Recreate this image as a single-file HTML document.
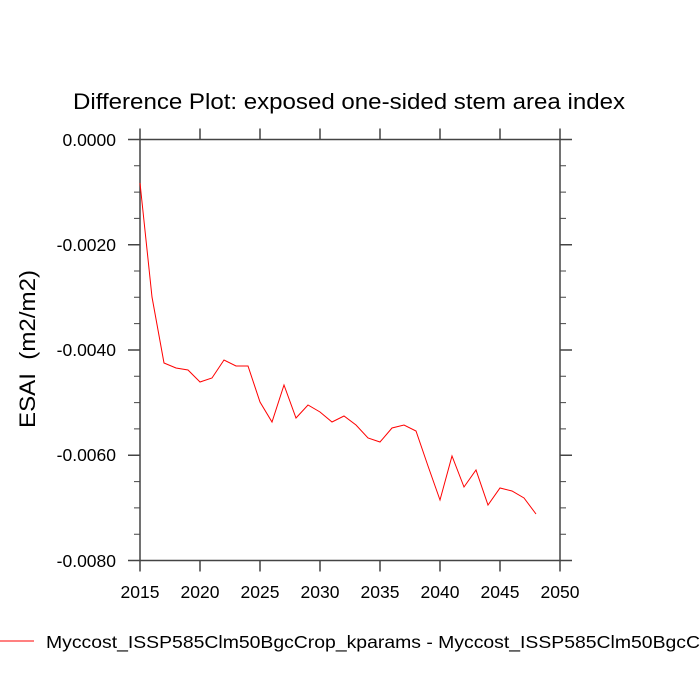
<!DOCTYPE html>
<html><head><style>body{margin:0;background:#fff;overflow:hidden}svg{display:block}</style></head><body>
<svg width="700" height="700" xmlns="http://www.w3.org/2000/svg" font-family="Liberation Sans, sans-serif">
<text x="73" y="109" font-size="22" textLength="552" lengthAdjust="spacingAndGlyphs">Difference Plot: exposed one-sided stem area index</text>
<g stroke="#444" stroke-width="1.5" fill="none">
<rect x="140" y="139.5" width="420" height="421"/>
<path d="M140,139.5h-12M140,244.75h-12M140,350h-12M140,455.25h-12M140,560.5h-12
M560,139.5h12M560,244.75h12M560,350h12M560,455.25h12M560,560.5h12
M140,139.5v-11M200,139.5v-11M260,139.5v-11M320,139.5v-11M380,139.5v-11M440,139.5v-11M500,139.5v-11M560,139.5v-11
M140,560.5v11M200,560.5v11M260,560.5v11M320,560.5v11M380,560.5v11M440,560.5v11M500,560.5v11M560,560.5v11"/>
<path stroke-width="1" d="M140,165.8h-6M140,192.1h-6M140,218.4h-6M140,271h-6M140,297.3h-6M140,323.6h-6M140,376.3h-6M140,402.6h-6M140,428.9h-6M140,481.6h-6M140,507.9h-6M140,534.2h-6
M560,165.8h6M560,192.1h6M560,218.4h6M560,271h6M560,297.3h6M560,323.6h6M560,376.3h6M560,402.6h6M560,428.9h6M560,481.6h6M560,507.9h6M560,534.2h6"/>
</g>
<g font-size="17.5" text-anchor="end">
<text x="116" y="146">0.0000</text><text x="116" y="251">-0.0020</text><text x="116" y="356">-0.0040</text><text x="116" y="461">-0.0060</text><text x="116" y="567">-0.0080</text>
</g>
<g font-size="17.5" text-anchor="middle">
<text x="140" y="598">2015</text><text x="200" y="598">2020</text><text x="260" y="598">2025</text><text x="320" y="598">2030</text><text x="380" y="598">2035</text><text x="440" y="598">2040</text><text x="500" y="598">2045</text><text x="560" y="598">2050</text>
</g>
<text transform="translate(35,428) rotate(-90)" font-size="22" textLength="158" lengthAdjust="spacingAndGlyphs" xml:space="preserve">ESAI  (m2/m2)</text>
<polyline fill="none" stroke="#f00" stroke-width="1" points="140,183 152,297 164,363 176,368 188,370 200,382 212,378 224,360 236,366 248,366 260,402 272,422 284,385 296,418 308,405 320,412 332,422 344,416 356,425 368,438 380,442 392,428 404,425 416,431 428,466 440,500 452,456 464,487 476,470 488,505 500,488 512,491 524,498 536,514"/>
<line x1="0" y1="641" x2="34" y2="641" stroke="#f00" stroke-width="1"/>
<text x="46" y="648" font-size="17.5" textLength="682" lengthAdjust="spacingAndGlyphs">Myccost_ISSP585Clm50BgcCrop_kparams - Myccost_ISSP585Clm50BgcCrop</text>
</svg>
</body></html>
